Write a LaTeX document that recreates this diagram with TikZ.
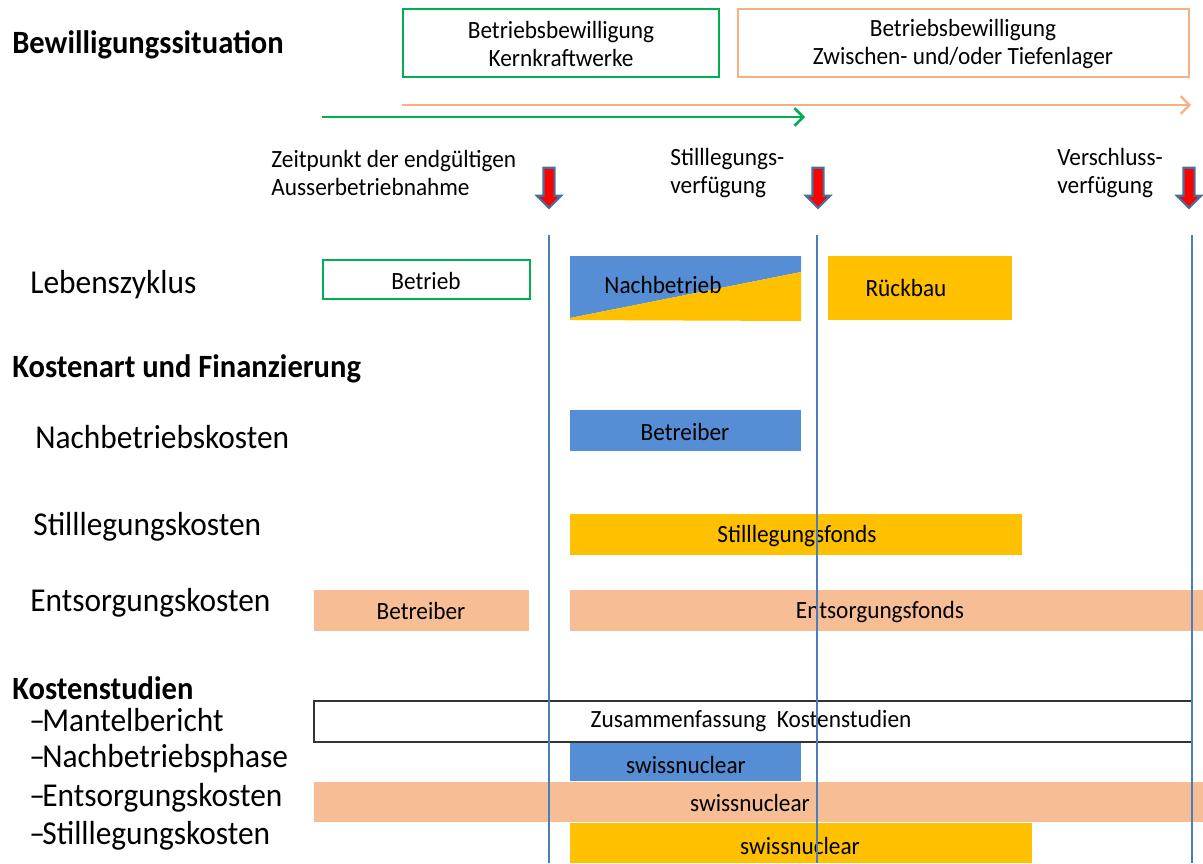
\documentclass[tikz,border=0pt]{standalone}
\usepackage{fontspec}
\setmainfont{Carlito}[FakeStretch=0.94]
\usetikzlibrary{arrows.meta,shapes.arrows}
\definecolor{kkwgreen}{HTML}{00B050}
\definecolor{lagerorange}{HTML}{F4B183}
\definecolor{fondsorange}{HTML}{F7BE95}
\definecolor{nbblue}{HTML}{558ED5}
\definecolor{rbyellow}{HTML}{FFC000}
\definecolor{zeitblue}{HTML}{4A7EBB}
\definecolor{pfeilblue}{HTML}{41719C}

\begin{document}
\begin{tikzpicture}[
  x=0.02cm, y=-0.02cm,
  > = {Straight Barb[length=5pt,width=10pt]},
  lbl/.style = {anchor=west,inner sep=0,font=\fontsize{19}{22}\selectfont},
  head/.style = {lbl,font=\fontsize{18.5}{22}\selectfont\bfseries},
  txt/.style = {inner sep=0,font=\fontsize{14.1}{16}\selectfont,align=center},
  note/.style = {txt,anchor=west,align=left},
  zeit/.style = {draw=zeitblue,line width=1.3pt},
  redarrow/.style = {single arrow,draw=pfeilblue,fill=red,line width=1.2pt,
    shape border rotate=270,minimum height=0.8cm,inner sep=0.09cm,
    single arrow head extend=0.13cm,single arrow head indent=0pt}
  ]
	\useasboundingbox (0,0) rectangle (1203,863);

	% Bewilligungssituation
	\node[head] (bew) at (12,45) {Bewilligungssituation};
	\draw[kkwgreen,line width=1.5pt] (403,9) rectangle (719,77);
	\node[txt] (kkw) at (561,44) {Betriebsbewilligung\\Kernkraftwerke};
	\draw[lagerorange,line width=1.5pt] (738,9) rectangle (1189,77);
	\node[txt] (lager) at (963,44) {Betriebsbewilligung\\Zwischen- und/oder Tiefenlager};

	\coordinate (@o1) at (402,105);
	\coordinate (@o2) at (1191,105);
	\coordinate (@g1) at (322,117);
	\coordinate (@g2) at (805,117);
	\draw[->,lagerorange,line width=1.3pt] (@o1) -- (@o2);
	\draw[->,kkwgreen,line width=1.5pt] (@g1) -- (@g2);

	% Zeitpunkte
	\node[note] (ausser) at (271,173) {Zeitpunkt der endgültigen\\Ausserbetriebnahme};
	\node[note] (still) at (670,173) {Stilllegungs-\\verfügung};
	\node[note] (versch) at (1057,173) {Verschluss-\\verfügung};
	\node[redarrow] (p1) at (549,185) {};
	\node[redarrow] (p2) at (818,185) {};
	\node[redarrow] (p3) at (1189,185) {};

	% Lebenszyklus
	\node[lbl] (leb) at (30,285) {Lebenszyklus};
	\draw[kkwgreen,line width=1.5pt,fill=white] (323,260) rectangle (530,299);
	\node[txt] (betrieb) at (426,281) {Betrieb};
	\fill[nbblue] (570,256) -- (801,256) -- (801,272) -- (570,318) -- cycle;
	\fill[rbyellow] (570,318) -- (801,272) -- (801,321) -- (570,320) -- cycle;
	\node[txt] (nachb) at (663,285) {Nachbetrieb};
	\fill[rbyellow] (828,256) rectangle (1012,320);
	\node[txt] (rueck) at (906,288) {Rückbau};

	% Kostenart und Finanzierung
	\node[head] (kost) at (12,369) {Kostenart und Finanzierung};
	\node[lbl] (nbk) at (35,437) {Nachbetriebskosten};
	\fill[nbblue] (570,410) rectangle (801,451);
	\node[txt] (betr1) at (685,432) {Betreiber};
	\node[lbl] (slk) at (33,527) {Stilllegungskosten};
	\fill[rbyellow] (570,514) rectangle (1022,555);
	\node[txt] (slf) at (797,536) {Stilllegungsfonds};
	\node[lbl] (esk) at (30,603) {Entsorgungskosten};
	\fill[fondsorange] (314,590) rectangle (529,631);
	\node[txt] (betr2) at (421,611) {Betreiber};
	\fill[fondsorange] (570,590) rectangle (1203,631);
	\node[txt] (esf) at (880,612) {Entsorgungsfonds};

	% Kostenstudien
	\node[head] (ks) at (12,688) {Kostenstudien};
	\node[lbl] (ks1) at (29,720) {--\kern-1.5pt Mantelbericht};
	\node[lbl] (ks2) at (29,759) {--\kern-1.5pt Nachbetriebsphase};
	\node[lbl] (ks3) at (29,798) {--\kern-1.5pt Entsorgungskosten};
	\node[lbl] (ks4) at (29,836) {--\kern-1.5pt Stilllegungskosten};
	\draw[black!80,line width=0.8pt] (314,701) rectangle (1192,742);
	\node[txt] (zus) at (751,721) {Zusammenfassung\ \ Kostenstudien};
	\fill[nbblue] (570,743) rectangle (801,781);
	\node[txt] (sn1) at (686,765) {swissnuclear};
	\fill[fondsorange] (314,782) rectangle (1203,822);
	\node[txt] (sn2) at (750,803) {swissnuclear};
	\fill[rbyellow] (570,823) rectangle (1032,863);
	\node[txt] (sn3) at (800,846) {swissnuclear};

	% Zeitlinien
	\coordinate (@t1) at (549,235);
	\coordinate (@t2) at (817,235);
	\coordinate (@t3) at (1192,235);
	\draw[zeit] (@t1) -- (@t1 |- 0,863);
	\draw[zeit] (@t2) -- (@t2 |- 0,863);
	\draw[zeit] (@t3) -- (@t3 |- 0,863);

\end{tikzpicture}
\end{document}
